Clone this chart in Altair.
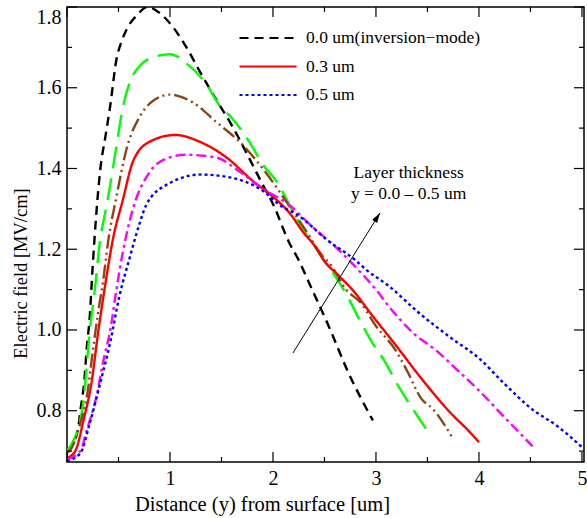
import altair as alt
import pandas as pd

FONT = "Liberation Serif"
W, H = 517, 455

series = ["0.0 um(inversion\u2212mode)", "0.1 um", "0.2 um", "0.3 um", "0.4 um", "0.5 um"]
colors = ["#000000", "#00ff00", "#8b4513", "#ff0000", "#ff00ff", "#0000ff"]
dashes = [[9, 6], [22, 10], [14, 4, 2, 4, 2, 4], [1, 0], [10, 4, 3, 4], [3, 3]]
legend_values = [series[0], series[3], series[5]]

x_00 = [0, 0.05, 0.08, 0.11, 0.13, 0.17, 0.19, 0.22, 0.25, 0.32, 0.38, 0.42, 0.48, 0.53, 0.58, 0.68, 0.78, 0.9, 1.03, 1.16, 1.29, 1.45, 1.6, 1.74, 1.9, 2.0, 2.16, 2.25, 2.35, 2.54, 2.74, 2.97]
y_00 = [0.70, 0.715, 0.73, 0.76, 0.80, 0.88, 0.95, 1.03, 1.16, 1.39, 1.49, 1.556, 1.67, 1.715, 1.745, 1.78, 1.80, 1.785, 1.75, 1.70, 1.64, 1.57, 1.507, 1.44, 1.36, 1.312, 1.215, 1.173, 1.117, 1.01, 0.89, 0.776]

x_01 = [0, 0.05, 0.1, 0.16, 0.22, 0.27, 0.32, 0.37, 0.42, 0.47, 0.55, 0.62, 0.71, 0.85, 1.0, 1.16, 1.35, 1.48, 1.6, 1.77, 1.9, 2.04, 2.18, 2.3, 2.45, 2.57, 2.72, 2.83, 2.96, 3.09, 3.22, 3.35, 3.5]
y_01 = [0.70, 0.72, 0.75, 0.825, 0.995, 1.10, 1.22, 1.29, 1.36, 1.44, 1.56, 1.62, 1.655, 1.677, 1.683, 1.66, 1.61, 1.556, 1.525, 1.466, 1.41, 1.366, 1.30, 1.246, 1.19, 1.146, 1.085, 1.03, 0.97, 0.92, 0.86, 0.807, 0.75]

x_02 = [0, 0.05, 0.13, 0.19, 0.25, 0.30, 0.35, 0.40, 0.48, 0.58, 0.71, 0.85, 1.0, 1.1, 1.22, 1.45, 1.7, 1.93, 2.06, 2.23, 2.32, 2.46, 2.57, 2.71, 2.85, 3.0, 3.19, 3.3, 3.44, 3.55, 3.75]
y_02 = [0.695, 0.71, 0.77, 0.83, 0.946, 1.04, 1.12, 1.22, 1.33, 1.45, 1.53, 1.57, 1.583, 1.578, 1.564, 1.515, 1.46, 1.39, 1.344, 1.28, 1.246, 1.19, 1.158, 1.10, 1.068, 1.01, 0.95, 0.90, 0.83, 0.805, 0.73]

x_03 = [0, 0.08, 0.16, 0.24, 0.3, 0.37, 0.45, 0.54, 0.64, 0.8, 1.05, 1.29, 1.55, 1.8, 2.0, 2.16, 2.3, 2.4, 2.5, 2.64, 2.77, 2.96, 3.19, 3.44, 3.73, 3.9, 4.0]
y_03 = [0.683, 0.70, 0.776, 0.873, 0.99, 1.11, 1.23, 1.32, 1.417, 1.466, 1.483, 1.466, 1.427, 1.37, 1.33, 1.29, 1.24, 1.21, 1.17, 1.134, 1.10, 1.037, 0.963, 0.88, 0.793, 0.75, 0.722]

x_04 = [0, 0.13, 0.19, 0.29, 0.35, 0.42, 0.48, 0.54, 0.64, 0.8, 0.97, 1.15, 1.45, 1.67, 1.9, 2.0, 2.13, 2.38, 2.64, 2.86, 3.0, 3.12, 3.35, 3.6, 3.8, 4.0, 4.25, 4.52]
y_04 = [0.68, 0.70, 0.75, 0.84, 0.92, 1.0, 1.10, 1.19, 1.30, 1.39, 1.425, 1.434, 1.427, 1.393, 1.35, 1.335, 1.315, 1.256, 1.198, 1.14, 1.10, 1.06, 0.995, 0.946, 0.898, 0.85, 0.783, 0.712]

x_05 = [0, 0.13, 0.22, 0.32, 0.42, 0.51, 0.61, 0.7, 0.77, 0.97, 1.3, 1.58, 1.9, 2.09, 2.22, 2.54, 2.8, 2.9, 3.12, 3.41, 3.73, 4.0, 4.25, 4.5, 4.77, 5.0]
y_05 = [0.675, 0.695, 0.768, 0.866, 0.97, 1.085, 1.18, 1.26, 1.31, 1.36, 1.385, 1.378, 1.345, 1.305, 1.288, 1.22, 1.173, 1.15, 1.11, 1.044, 0.98, 0.93, 0.866, 0.807, 0.76, 0.71]

xs_list = [x_00, x_01, x_02, x_03, x_04, x_05]
ys_list = [y_00, y_01, y_02, y_03, y_04, y_05]

x_major = [0, 1, 2, 3, 4, 5]
x_minor = [0.5, 1.5, 2.5, 3.5, 4.5]
y_major = [0.8, 1.0, 1.2, 1.4, 1.6, 1.8]
y_minor = [0.7, 0.9, 1.1, 1.3, 1.5, 1.7]

ann_text = ["Layer thickness", "y = 0.0 \u2013 0.5 um"]
ann_x = [3.317, 3.317]
ann_y = [1.39, 1.338]

arrow_x = [2.194, 3.039]
arrow_y = [0.943, 1.290]

rows = []
for s, xv, yv in zip(series, xs_list, ys_list):
    for i, (a, b) in enumerate(zip(xv, yv)):
        rows.append({"s": s, "x": a, "y": b, "i": i})
df = pd.DataFrame(rows)

xs = alt.Scale(domain=[0, 5.02], nice=False, zero=False)
ys = alt.Scale(domain=[0.673, 1.8], nice=False, zero=False)

XT = "Distance (y) from surface [um]"
YT = "Electric field [MV/cm]"

leg = alt.Legend(
    values=legend_values, title=None, orient="none", legendX=209, legendY=20,
    symbolType="M-5,0H1", symbolSize=361, symbolStrokeWidth=2.2,
    labelFont=FONT, labelFontSize=17.5, labelColor="black", labelOffset=8,
    labelLimit=400, rowPadding=8.5,
)

xaxis = alt.Axis(
    values=[1, 2, 3, 4, 5], format="d", title=XT,
    labelPadding=6, titleX=195, titleY=48, titleBaseline="alphabetic", titleAlign="center",
    titleFontSize=20.5, labelFontSize=20,
)
yaxis = alt.Axis(
    values=y_major, format=".1f", title=YT,
    labelPadding=6, titleX=-47, titleY=266, titleBaseline="middle", titleAlign="center",
    titleFontSize=18.5, labelFontSize=20,
    labelBaseline={"condition": {"test": "datum.value >= 1.79", "value": "top"}, "value": "middle"},
)

X = alt.X("x:Q", scale=xs, axis=xaxis, title=XT)
Y = alt.Y("y:Q", scale=ys, axis=yaxis, title=YT)

lines = alt.Chart(df).mark_line(strokeWidth=2.4, clip=True, strokeCap="butt", interpolate="monotone").encode(
    x=X,
    y=Y,
    color=alt.Color("s:N", scale=alt.Scale(domain=series, range=colors), legend=leg),
    strokeDash=alt.StrokeDash("s:N", scale=alt.Scale(domain=series, range=dashes), legend=leg),
    order=alt.Order("i:Q"),
)


def xticks(vals, y0, y1):
    return alt.Chart(pd.DataFrame({"x": vals})).mark_rule(color="black", strokeWidth=1.2).encode(
        x=X, y=alt.value(y0), y2=alt.value(y1)
    )


def yticks(vals, x0, x1):
    return alt.Chart(pd.DataFrame({"y": vals})).mark_rule(color="black", strokeWidth=1.2).encode(
        y=Y, x=alt.value(x0), x2=alt.value(x1)
    )


ticks = [
    xticks(x_major, H, H - 10), xticks(x_minor, H, H - 5),
    xticks(x_major, 0, 10), xticks(x_minor, 0, 5),
    yticks(y_major, 0, 10), yticks(y_minor, 0, 5),
    yticks(y_major, W, W - 10), yticks(y_minor, W, W - 5),
]

ann = alt.Chart(pd.DataFrame({"x": ann_x, "y": ann_y, "t": ann_text})).mark_text(
    font=FONT, fontSize=17.5, align="center", baseline="middle", color="black"
).encode(x=X, y=Y, text="t:N")

arrow_df = pd.DataFrame({"x": arrow_x, "y": arrow_y})
arrow_line = alt.Chart(arrow_df).mark_line(color="black", strokeWidth=1).encode(x=X, y=Y)
arrow_head = alt.Chart(arrow_df.tail(1)).mark_point(
    shape="M0,0L-0.35,1.2L0.35,1.2Z", filled=True, size=280, angle=32, color="black", opacity=1
).encode(x=X, y=Y)

chart = alt.layer(lines, *ticks, arrow_line, arrow_head, ann).properties(
    width=W, height=H,
    padding={"left": 67, "top": 7, "right": 3, "bottom": 56},
    autosize=alt.AutoSizeParams(type="none"),
).configure_axis(
    labelFont=FONT, titleFont=FONT, labelColor="black", titleColor="black",
    titleFontWeight="normal", grid=False, domain=False, ticks=False,
).configure_view(stroke="black", strokeWidth=1.5)

chart.save("out.html", embed_options={"renderer": "svg", "actions": False})
